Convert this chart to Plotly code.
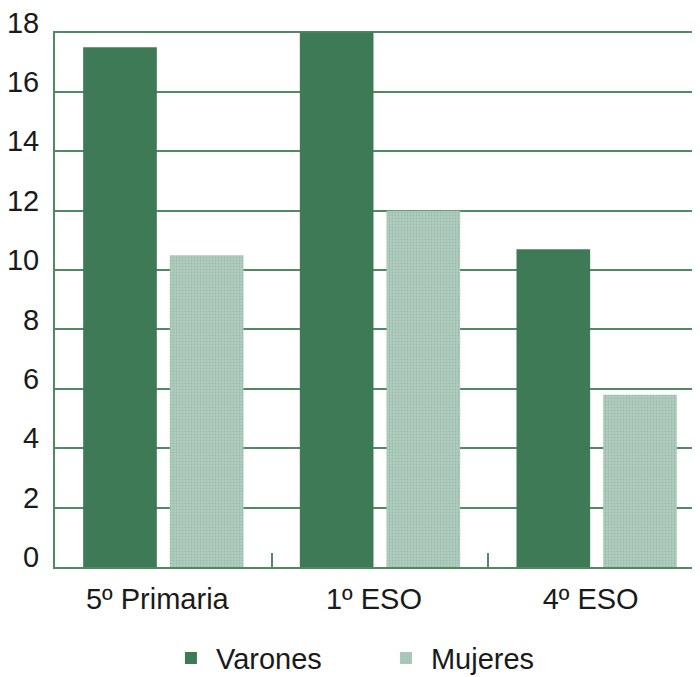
import plotly.graph_objects as go

categories = ["5º Primaria", "1º ESO", "4º ESO"]
varones = [17.5, 18.0, 10.7]
mujeres = [10.5, 12.0, 5.8]
y_ticks = [0, 2, 4, 6, 8, 10, 12, 14, 16, 18]

DARK = "#3f7a57"
LIGHT = "#b0cdbf"
GRID = "#4f8a63"

fig = go.Figure()
fig.add_trace(go.Bar(name="Varones", x=categories, y=varones,
                     marker=dict(color=DARK, line=dict(width=0))))
fig.add_trace(go.Bar(name="Mujeres", x=categories, y=mujeres,
                     marker=dict(color=LIGHT, line=dict(width=0),
                                 pattern=dict(shape=".", fgcolor="#7fa893",
                                              bgcolor=LIGHT, size=3, solidity=0.3))))

fig.update_layout(
    width=700, height=677,
    margin=dict(l=47, r=8, t=23, b=118, autoexpand=False),
    paper_bgcolor="white", plot_bgcolor="white",
    barmode="group", bargap=0.2, bargroupgap=0.15,
    font=dict(family="Liberation Sans, Arial, sans-serif", size=29, color="#1a1a1a"),
    showlegend=True,
    legend=dict(orientation="h", x=0.172, xanchor="left", y=-0.17, yanchor="middle",
                font=dict(size=29), itemwidth=40, entrywidth=160, traceorder="normal"),
)
fig.update_xaxes(
    type="category", range=[-0.5, 2.477], automargin=False,
    showline=True, linecolor=GRID, linewidth=2,
    ticks="inside", ticklen=14, tickcolor=GRID, tickwidth=2,
    tickson="boundaries", showgrid=False,
    tickfont=dict(size=29), ticklabelstandoff=5, ticklabelshift=-6,
)
fig.update_yaxes(
    range=[0, 18.05], tickvals=y_ticks, automargin=False,
    showline=True, linecolor=GRID, linewidth=2,
    showgrid=True, gridcolor=GRID, gridwidth=1.5,
    zeroline=False, ticklabeloverflow="allow",
    ticks="", tickfont=dict(size=29), ticklabelstandoff=8, ticklabelshift=-10,
)

fig.write_html("out.html")
